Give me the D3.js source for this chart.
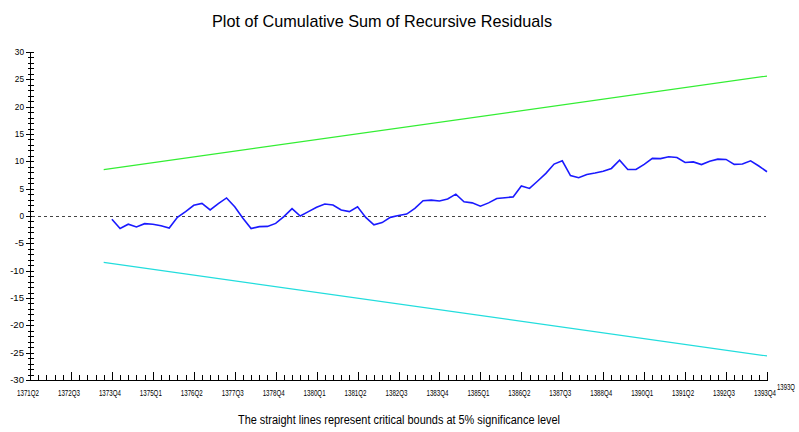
<!DOCTYPE html>
<html>
<head>
<meta charset="utf-8">
<script src="https://cdn.jsdelivr.net/npm/d3@7"></script>
<style>
  body { margin: 0; background: #fff; }
  svg { display: block; }
  .narrow { font-family: "Liberation Sans Narrow", "Arial Narrow", "Liberation Sans", Arial, sans-serif; }
</style>
</head>
<body>
<svg width="799" height="432"></svg>
<script>
// quarters on the axis: 1371Q2 .. 1393Q4
const firstYear = 1371, firstQ = 2, nQuarters = 91;
const quarters = [];
for (let i = 0; i < nQuarters; i++) {
  const q = firstQ - 1 + i;
  quarters.push((firstYear + Math.floor(q / 4)) + "Q" + ((q % 4) + 1));
}

const tickLabels = ["1371Q2", "1372Q3", "1373Q4", "1375Q1", "1376Q2", "1377Q3", "1378Q4",
  "1380Q1", "1381Q2", "1382Q3", "1383Q4", "1385Q1", "1386Q2", "1387Q3", "1388Q4",
  "1390Q1", "1391Q2", "1392Q3", "1393Q4"];

const yTicks = [-30, -25, -20, -15, -10, -5, 0, 5, 10, 15, 20, 25, 30];

// cusum of recursive residuals, 1373Q4 .. 1393Q4
const seriesStart = "1373Q4";
const cusum = [
  -0.6, -2.3, -1.5, -2.0, -1.4, -1.5, -1.8, -2.2, -0.25, 0.8,
  1.95, 2.3, 1.1, 2.25, 3.3, 1.7, -0.4, -2.3, -1.95, -1.9,
  -1.35, -0.1, 1.35, 0.0, 0.8, 1.6, 2.2, 2.0, 1.1, 0.8,
  1.7, -0.25, -1.6, -1.2, -0.25, 0.1, 0.35, 1.4, 2.8, 2.9,
  2.75, 3.1, 4.0, 2.6, 2.4, 1.8, 2.4, 3.2, 3.35, 3.5,
  5.5, 5.05, 6.4, 7.8, 9.5, 10.1, 7.4, 7.0, 7.6, 7.85,
  8.2, 8.7, 10.2, 8.5, 8.5, 9.45, 10.55, 10.5, 10.85, 10.7,
  9.8, 9.9, 9.4, 10.0, 10.4, 10.35, 9.45, 9.5, 10.1, 9.15,
  8.1
];

// 5% critical bounds (straight lines)
const boundPeriods = ["1373Q3", "1393Q4"];
const upperBound = [8.5, 25.6];
const lowerBound = [-8.5, -25.6];

const svg = d3.select("svg");

const x = d3.scalePoint().domain(quarters).range([30, 767]);
const y = d3.scaleLinear().domain([-30, 30]).range([380, 52]);

// title and note (condensed to the width of the original narrow face)
svg.append("text")
  .attr("class", "narrow")
  .attr("x", 382).attr("y", 27)
  .attr("text-anchor", "middle")
  .attr("font-size", 17)
  .attr("textLength", 340).attr("lengthAdjust", "spacingAndGlyphs")
  .text("Plot of Cumulative Sum of Recursive Residuals");

svg.append("text")
  .attr("class", "narrow")
  .attr("x", 399).attr("y", 424)
  .attr("text-anchor", "middle")
  .attr("font-size", 12.5)
  .attr("textLength", 322).attr("lengthAdjust", "spacingAndGlyphs")
  .text("The straight lines represent critical bounds at 5% significance level");

// y axis
const gy = svg.append("g").attr("stroke", "#000").attr("stroke-width", 1);
gy.append("line").attr("x1", 30.5).attr("x2", 30.5).attr("y1", y(30)).attr("y2", y(-30));
d3.range(-30, 31).forEach(v => {
  const major = v % 5 === 0;
  gy.append("line")
    .attr("x1", major ? 26 : 28).attr("x2", 34)
    .attr("y1", Math.round(y(v)) + 0.5).attr("y2", Math.round(y(v)) + 0.5);
});
svg.append("g").selectAll("text").data(yTicks).join("text")
  .attr("class", "narrow")
  .attr("x", 24).attr("y", d => y(d) + 3)
  .attr("text-anchor", "end")
  .attr("font-size", 9)
  .attr("textLength", d => String(d).length * 4.6).attr("lengthAdjust", "spacingAndGlyphs")
  .text(d => d);

// x axis
const gx = svg.append("g").attr("stroke", "#000").attr("stroke-width", 1);
gx.append("line").attr("x1", 30).attr("x2", 767).attr("y1", 380.5).attr("y2", 380.5);
quarters.forEach(q => {
  const major = tickLabels.includes(q);
  gx.append("line")
    .attr("x1", Math.round(x(q)) + 0.5).attr("x2", Math.round(x(q)) + 0.5)
    .attr("y1", major ? 372 : 375).attr("y2", 381);
});
svg.append("g").selectAll("text").data(tickLabels).join("text")
  .attr("class", "narrow")
  .attr("x", d => x(d) - 2).attr("y", 396)
  .attr("text-anchor", "middle")
  .attr("font-size", 9)
  .attr("textLength", 22).attr("lengthAdjust", "spacingAndGlyphs")
  .text(d => d);
// overlapping, clipped copy of the last label seen in the original output
svg.append("text")
  .attr("class", "narrow")
  .attr("x", x("1393Q4") + 10).attr("y", 390)
  .attr("font-size", 8.5)
  .attr("textLength", 18).attr("lengthAdjust", "spacingAndGlyphs")
  .text("1393Q");

// zero line
svg.append("line")
  .attr("x1", 32).attr("x2", 766)
  .attr("y1", Math.round(y(0)) + 0.5).attr("y2", Math.round(y(0)) + 0.5)
  .attr("stroke", "#444").attr("stroke-dasharray", "3,3");

// bounds
const bLine = d3.line().x(d => x(d[0])).y(d => y(d[1]));
svg.append("path")
  .attr("d", bLine(d3.zip(boundPeriods, upperBound)))
  .attr("fill", "none").attr("stroke", "#33ee33").attr("stroke-width", 1.2);
svg.append("path")
  .attr("d", bLine(d3.zip(boundPeriods, lowerBound)))
  .attr("fill", "none").attr("stroke", "#22dddd").attr("stroke-width", 1.2);

// cusum line
const i0 = quarters.indexOf(seriesStart);
const pts = cusum.map((v, i) => [quarters[i0 + i], v]);
svg.append("path")
  .attr("d", bLine(pts))
  .attr("fill", "none").attr("stroke", "#1a1aff").attr("stroke-width", 1.6);
</script>
</body>
</html>
